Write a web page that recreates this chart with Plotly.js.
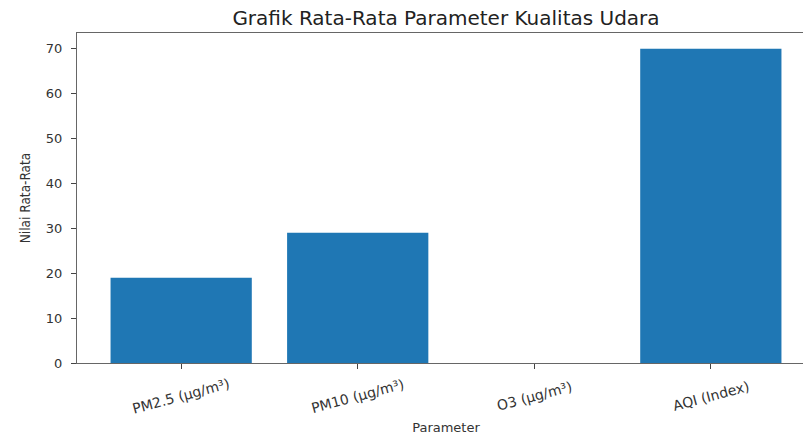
<!DOCTYPE html>
<html><head><meta charset="utf-8">
<script src="https://cdn.plot.ly/plotly-3.0.1.min.js"></script>
<style>html,body{margin:0;padding:0;overflow:hidden;background:#fff}</style>
</head><body><div id="chart"></div>
<script>
const categories = ["PM2.5 (µg/m³)", "PM10 (µg/m³)", "O3 (µg/m³)", "AQI (Index)"];
const values = [19, 29, 0, 70];
const yTicks = [0, 10, 20, 30, 40, 50, 60, 70];
const xPos = categories.map((c, i) => i);

const labelAnnotations = categories.map((c, i) => ({
  text: c, x: xPos[i], xref: 'x', y: 0, yref: 'paper',
  xanchor: 'center', yanchor: 'middle', yshift: -33,
  textangle: -15, showarrow: false,
  font: {family: 'DejaVu Sans', size: 14, color: '#333'}
}));

Plotly.newPlot('chart', [{
  type: 'bar',
  x: xPos,
  y: values,
  width: 0.8,
  marker: {color: '#1f77b4'},
  hoverinfo: 'skip'
}], {
  width: 816, height: 437,
  margin: {l: 77, r: 1, t: 33, b: 74},
  paper_bgcolor: '#fff', plot_bgcolor: '#fff',
  font: {family: 'DejaVu Sans', color: '#333', size: 13},
  title: {text: 'Grafik Rata-Rata Parameter Kualitas Udara', font: {size: 20, color: '#222'}, x: 0.5, xref: 'paper', y: 0.958, yanchor: 'middle'},
  showlegend: false,
  annotations: labelAnnotations,
  xaxis: {
    range: [-0.59, 3.59], tickvals: xPos, showticklabels: false,
    ticks: 'outside', ticklen: 5, tickcolor: '#444',
    showline: true, linecolor: '#666', mirror: true, showgrid: false, zeroline: false,
    title: {text: 'Parameter', font: {size: 13}, standoff: 54}
  },
  yaxis: {
    range: [0, 73.5], tickvals: yTicks, ticks: 'outside', ticklen: 5, tickcolor: '#444',
    ticklabelstandoff: 6,
    showline: true, linecolor: '#666', mirror: true, showgrid: false, zeroline: false,
    tickfont: {size: 13},
    title: {text: 'Nilai Rata-Rata', font: {family: 'DejaVu Sans Condensed', size: 13.5}, standoff: 12}
  }
}, {displayModeBar: false, staticPlot: true});
</script></body></html>
